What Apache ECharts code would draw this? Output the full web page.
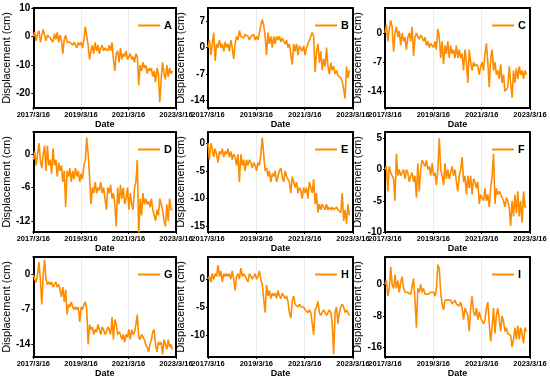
<!DOCTYPE html>
<html><head><meta charset="utf-8">
<script src="https://cdn.jsdelivr.net/npm/echarts@6/dist/echarts.min.js"></script>
<style>html,body{margin:0;padding:0;background:#fff}#c{width:550px;height:379px}</style>
</head><body><div id="c"></div>
<script>
// ---- data ----
const xTickLabels = ['2017/3/16', '2019/3/16', '2021/3/16', '2023/3/16'];
const xTickYears = [0, 2, 4, 6];
const panelNames = ['A', 'B', 'C', 'D', 'E', 'F', 'G', 'H', 'I'];
const lastSampleYear = 5.85; // last acquisition, years after 2017/3/16

const seriesA = [0,1.5,-1.5,1,2,-2,0.5,2.5,0.5,-1.5,0.5,1,-0.5,0,-2,1,-1,1.5,-2,0.5,-1.5,-6,-1,0.5,-2,-1.5,-2,-1.5,-3,-2,-2.5,-4,-2,-3,-2,-4,-1,3.5,0,-3,-8,-5,-3,-6,-2,-5,-3,-6,-4,-3,-5,-4,-4,-5,-3,-5,-2,-8,-12,-6,-5,-9,-4,-8,-6,-7,-5,-8,-7,-6,-8,-7,-9,-6,-7,-17,-10,-12,-9,-11,-10,-13,-11,-12,-11,-14,-12,-16,-11,-13,-23,-15,-9,-13,-15,-10,-14,-11,-13,-12];
const seriesB = [0,2,-2,1,4,-3.5,1,0,2,0,1,-1,1.5,0,1,-1,2,0,-3,1,3,2,4.5,3,3.5,2.5,3.5,3,3,2,3,2.5,3.5,2,3,2,4,6,7.5,6,3,-2,4,1,3,0,3,1,3,2,3,1.5,2.5,2,1,2,0,1,0.5,-4.5,1,-1,1,-2,0.5,1,-1,0.5,-2,0,1,2,3,4,3,-6.5,-1,1,-4,-1,-6,-3,-5,0,-5,-7,-4,-6,-5,-7,-6,-7.5,-8,-8,-9,-11,-13.5,-5,-8,-6];
const seriesC = [0,2,-2,1,3,1.5,-4.5,0,1.5,-1,0.5,-3,0,-2,-1,-4,-1,0,-2,1.5,-5.5,-1,0,-1,-1.5,-0.5,-1,-2,-1,-3,-2,-3.5,-2.5,-3,-3.5,-2,-4,1,-1,-6,-2,-7.5,-3,-5,-2,-6,-3,-5,-4,-6,-3,-6,-4,-6,-5,-9,-4,-7,-12,-4,-7,-9,-7,-8,-7.5,-8,-10,-8,-7,-9,-5,-2.5,-7,-13,-6,-4,-9,-7,-10,-9,-11,-7.5,-12,-10,-14,-14,-13,-8,-12,-15.5,-9,-12,-8.5,-11,-8,-10,-9,-11,-9,-10];
const seriesD = [-1,0.5,-2,0,2,-1,-2.5,0,1.5,-3,1.5,-2,-1,-3.5,1,-2,-1,-4,-1.5,-3,-2,-5,-3,-9.5,-3,-4,-2.5,-5,-3,-4.5,-2.5,-4,-3,-5,-3.5,-4.5,-2,-1,3,0,-4,-9,-6,-7,-5,-7,-6,-6.5,-5,-7,-6,-8,-10,-6,-7,-5.5,-8,-7,-9,-13,-6,-9,-5.5,-8,-6,-9,-8,-6,-10,-7,-9,-10,-6,-5,-1,-14.5,-8,-11,-7,-9,-8,-9,-8.5,-9.5,-8,-10,-11,-12,-10,-11,-8,-9,-10,-12,-13,-9,-12,-8,-10,-10];
const seriesE = [0,-3,0,-1,-2.5,-1,-2,-3.5,-1.5,-2,-1,-2.5,-1.5,-2,-1,-2.5,-1.5,-3,-2,-2.5,-4,-2,-7,-2,-4,-3,-5,-3,-4,-3,-3.5,-4.5,-3.5,-4,-5,-3.5,-4,-2,1,-2,-5,-4.5,-6,-5,-7,-5.5,-6,-5,-7,-6,-5,-4.5,-6,-7,-5,-6,-6.5,-7,-9,-6,-7,-8,-7,-9,-8,-8.5,-10,-8,-9,-8,-10,-7,-8,-9,-6.5,-11,-9,-12.5,-11,-12,-11,-11.5,-12,-11,-12,-11.5,-12,-11.5,-12,-12,-11.5,-12,-12,-12.5,-9,-14,-12,-14.5,-11,-13];
const seriesF = [0,0.5,-3.5,0.5,-0.5,-1,-1.5,-5,2.5,-1,0,-1,-0.5,0,-1.5,0,-0.5,-2,-1,-0.5,-2,-1,-4.5,1,-3.5,0,1.5,1,0.5,1.5,0,0.5,-1,1,-1,-0.5,-2.5,0,5,0,-1,-2.5,1,-1.5,0,-1.5,-0.5,0.5,-1,0,-2,-3.5,-1,0,2,-2,-1,-4,-1,-3,-1,-4,-1.5,-2,-3,-2,-5.5,-4,-4.5,-5,-3,-5,-4,-6,-3,-1,2.5,-5.5,-3,-4,-3.5,-4,-4.5,-5,-6,-4.5,-5,-6,-9,-5,-7.5,-4,-7,-3.5,-7.5,-5,-8.5,-3.5,-6,-6];
const seriesG = [0,-1,-1.5,0,2.5,-1,-6,0,3,-1,-2,-1.5,-2,-1.5,-2.5,-2,-1.5,-2.5,-2,-3,-4.5,-2.5,-5.5,-3,-8,-6,-6.5,-5.5,-6.5,-7,-6.5,-7,-6.5,-9.5,-6.5,-7,-6,-5.5,-7,-14,-10,-11,-10.5,-12,-11,-11.5,-10,-11,-12,-10.5,-11,-12,-11.5,-10.5,-11,-12,-8.5,-13,-9,-10,-12,-11.5,-12,-13,-12,-13.5,-12,-12.5,-11,-13,-11,-12,-11.5,-10,-8,-12.5,-13,-12,-12.5,-13,-14,-14.5,-15.5,-14,-13,-11.5,-11,-14,-15.5,-13.5,-14,-13.5,-16,-13,-14,-15,-13,-14.5,-14,-15];
const seriesH = [0,0.5,-0.5,1,0,1,0.5,2.5,0.5,1.5,-0.5,1,0.5,1,0.5,1,0,1.5,0,-2,0.5,1,0,2,0.5,1,0.5,0,-0.5,1,0.5,0,0.5,1,0,0.5,1.5,0,-1,-1,-6,-1,-3,-2,-3.5,-2.5,-3,-2.5,-3.5,-2,-3,-3.5,-2.5,-3,-3.5,-3,-4,-6,-7,-4,-3,-4.5,-4.5,-5,-4.5,-5,-5,-5,-5.5,-5.5,-6,-5.5,-6,-8,-10,-5.5,-5,-4,-6,-6.5,-6,-5.5,-6,-6.5,-6,-5.5,-6,-8,-13.5,-6,-5,-8,-6,-5,-4.5,-5,-6,-5.5,-6,-6.5];
const seriesI = [0,1,-3,-1,4.5,0,-1,2.5,-1,1,-2,0.5,2,-1,-2,-2.5,-2,-1.5,-2.5,-2,1.5,-4,-11,-1,-2,0,-2,-1,-2.5,-3,-2.5,-2,-2,-1.5,-2,-3,-1,5,4,-2,-5,-6.5,-4,-3.5,-4,-4.5,-4,-5,-5,-4,-5,-5,-5.5,-4.5,-6,-9,-6,-7,-8,-12,-6,-3,-7,-8,-6,-9,-7,-8.5,-8,-10,-9,-6,-4.5,-10,-14.5,-11,-6,-12.5,-8,-6,-9,-12,-8,-9.5,-12,-11,-12.5,-12.5,-13,-16,-14,-11,-14,-10.5,-14,-11,-12.5,-15,-11,-12];

const yRanges = [[-25, 10], [-16, 10.5], [-18, 6], [-14, 4], [-16, 2], [-10, 6], [-16.5, 3.5], [-14, 4], [-18.5, 7]];
const yTickValues = [[-20, -10, 0, 10], [-14, -7, 0, 7], [-14, -7, 0], [-12, -6, 0], [-15, -10, -5, 0], [-10, -5, 0, 5], [-14, -7, 0], [-10, -5, 0], [-16, -8, 0]];

const allSeries = [seriesA, seriesB, seriesC, seriesD, seriesE, seriesF, seriesG, seriesH, seriesI];

// ---- layout ----
const colLeft = [31, 208, 385];
const rowTop = [8, 132, 257];
const W = 145, H = 100;
const FONT = 'Liberation Sans, Arial, sans-serif';
const frameLine = {show: true, onZero: false, lineStyle: {color: '#000', width: 2}};

const grids = [], xAxes = [], yAxes = [], xFrame = [], yFrame = [], series = [], legends = [];
allSeries.forEach((vals, k) => {
  const r = Math.floor(k / 3), c = k % 3;
  const left = colLeft[c], top = rowTop[r];
  grids.push({left: left, top: top, width: W, height: H});
  xAxes.push({
    type: 'value', gridIndex: k, min: 0, max: 6, interval: 2, position: 'bottom',
    name: 'Date', nameLocation: 'middle', nameGap: 11,
    nameTextStyle: {fontFamily: FONT, fontSize: 9, fontWeight: 'bold', color: '#000'},
    axisLine: frameLine,
    axisTick: {show: true, length: 2, lineStyle: {color: '#000'}},
    axisLabel: {fontFamily: FONT, fontSize: 7.5, fontWeight: 'bold', color: '#000', margin: 3,
      formatter: v => xTickLabels[xTickYears.indexOf(v)] || ''},
    splitLine: {show: true, lineStyle: {color: '#ebebeb', width: 1}}
  });
  yAxes.push({
    type: 'value', gridIndex: k, min: yRanges[k][0], max: yRanges[k][1], position: 'left',
    name: 'Displacement (cm)', nameLocation: 'middle', nameGap: 12,
    nameTextStyle: {fontFamily: FONT, fontSize: 11, color: '#000'},
    axisLine: frameLine,
    axisTick: {show: true, length: 2, customValues: yTickValues[k], lineStyle: {color: '#000'}},
    axisLabel: {fontFamily: FONT, fontSize: 10, fontWeight: 'bold', color: '#000', margin: 3, customValues: yTickValues[k]},
    splitLine: {show: false}
  });
  xFrame.push({type: 'value', gridIndex: k, min: 0, max: 6, position: 'top', axisLine: frameLine,
    axisTick: {show: false}, axisLabel: {show: false}, splitLine: {show: false}});
  yFrame.push({type: 'value', gridIndex: k, min: yRanges[k][0], max: yRanges[k][1], position: 'right', axisLine: frameLine,
    axisTick: {show: false}, axisLabel: {show: false}, splitLine: {show: false}});
  const step = lastSampleYear / (vals.length - 1);
  series.push({
    name: panelNames[k], type: 'line', xAxisIndex: k, yAxisIndex: k,
    showSymbol: false, symbol: 'none', animation: false,
    lineStyle: {color: '#FF8C00', width: 1.6}, itemStyle: {color: '#FF8C00'},
    data: vals.map((v, i) => [i * step, v])
  });
  legends.push({
    data: [panelNames[k]], left: left + 102, top: top + 7,
    icon: 'rect', itemWidth: 22, itemHeight: 2, itemGap: 4,
    textStyle: {fontFamily: FONT, fontSize: 11, fontWeight: 'bold', color: '#000', padding: [0, 0, 0, -1]}
  });
});

const chart = echarts.init(document.getElementById('c'), null, {renderer: 'canvas'});
chart.setOption({animation: false, grid: grids, xAxis: xAxes.concat(xFrame), yAxis: yAxes.concat(yFrame), series: series, legend: legends});
</script>
</body></html>
